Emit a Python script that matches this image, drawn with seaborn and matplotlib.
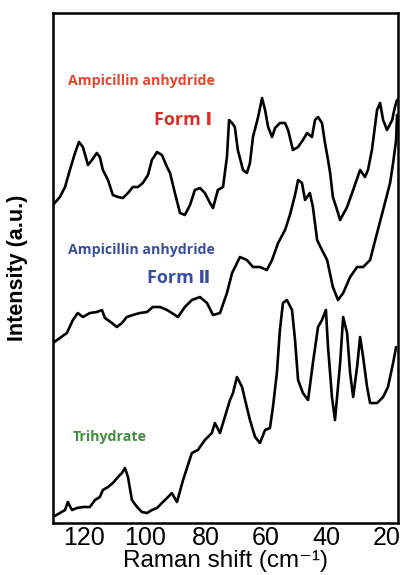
import numpy as np
import pandas as pd
import matplotlib
matplotlib.use("Agg")
import matplotlib.pyplot as plt
import seaborn as sns

# ---------------- DADOS ----------------
form1_shift = [130.4, 128.1, 126.4, 124.8, 123.1, 121.8, 120.5, 118.8, 117.5, 115.9,
               114.9, 113.9, 112.2, 110.6, 108.9, 107.3, 105.6, 104.0, 102.3, 100.7,
               99.0, 97.7, 96.0, 94.4, 92.7, 91.7, 90.1, 88.4, 86.8, 85.1,
               83.5, 81.8, 80.2, 78.5, 77.5, 75.9, 74.2, 72.9, 72.2, 71.2,
               70.3, 69.3, 67.6, 66.3, 65.3, 64.3, 62.6, 61.3, 60.3, 59.3,
               58.0, 57.0, 55.4, 53.7, 52.7, 51.1, 49.4, 47.8, 46.4, 44.8,
               43.8, 42.8, 41.5, 40.5, 39.5, 38.8, 37.9, 36.5, 35.5, 33.2,
               31.2, 28.9, 27.3, 26.3, 25.0, 23.3, 22.3, 21.3, 20.0, 18.3,
               17.4, 16.7]
form1_int = [318, 326, 336, 353, 370, 381, 376, 358, 363, 370,
             366, 353, 343, 328, 326, 325, 330, 336, 336, 340,
             348, 363, 371, 368, 356, 350, 330, 310, 308, 318,
             333, 335, 330, 320, 315, 333, 336, 366, 403, 400,
             396, 373, 353, 350, 360, 386, 406, 425, 413, 396,
             386, 395, 400, 400, 393, 373, 376, 383, 390, 386,
             403, 406, 400, 380, 363, 350, 326, 313, 303, 316,
             333, 353, 346, 353, 373, 413, 420, 403, 393, 403,
             416, 423]

form2_shift = [130.4, 128.1, 125.8, 123.8, 122.2, 120.5, 118.2, 115.9, 114.2, 113.2,
               110.9, 109.3, 107.6, 106.0, 104.0, 101.7, 99.3, 97.4, 95.0, 92.7,
               91.1, 89.1, 86.8, 84.5, 81.8, 79.5, 77.5, 75.2, 72.9, 71.2,
               68.6, 66.3, 64.3, 62.0, 59.7, 58.0, 56.0, 53.7, 52.1, 50.4,
               49.4, 48.1, 47.1, 45.5, 44.5, 43.1, 41.5, 39.8, 37.9, 36.2,
               34.5, 32.2, 29.9, 27.9, 25.6, 23.3, 21.3, 19.0, 18.0, 17.0,
               16.7]
form2_int = [180, 185, 190, 203, 210, 206, 210, 211, 213, 205,
             200, 196, 200, 206, 208, 210, 211, 216, 216, 213,
             210, 206, 216, 223, 226, 220, 208, 210, 230, 250,
             266, 263, 256, 256, 253, 263, 280, 293, 308, 328,
             343, 340, 323, 330, 316, 283, 273, 263, 236, 223,
             230, 246, 256, 256, 263, 290, 313, 340, 360, 383,
             408]

tri_shift = [130.4, 128.1, 126.4, 125.5, 124.1, 122.5, 120.5, 118.2, 116.5, 114.9,
             113.9, 112.2, 110.6, 108.9, 107.6, 106.6, 105.6, 104.3, 102.6, 101.0,
             99.3, 97.7, 96.0, 94.4, 92.7, 91.1, 89.4, 87.4, 84.5, 82.5,
             80.2, 77.9, 76.9, 75.2, 73.6, 71.9, 70.9, 69.6, 67.9, 66.9,
             65.3, 63.6, 62.0, 60.3, 58.7, 57.7, 56.4, 55.4, 54.4, 53.1,
             51.4, 50.4, 49.4, 47.8, 46.1, 44.5, 42.8, 41.5, 40.2, 39.5,
             38.2, 37.2, 35.5, 34.5, 33.2, 32.2, 31.2, 29.9, 28.9, 27.9,
             26.6, 25.6, 23.3, 21.3, 19.7, 18.0, 17.0]
tri_int = [6, 10, 13, 21, 13, 15, 16, 16, 23, 26,
           33, 36, 40, 46, 50, 55, 46, 23, 16, 11,
           10, 13, 15, 20, 25, 30, 21, 43, 70, 73,
           83, 90, 100, 90, 106, 123, 130, 146, 136, 123,
           103, 86, 80, 93, 95, 116, 150, 193, 220, 223,
           213, 183, 143, 130, 123, 160, 196, 203, 213, 176,
           126, 103, 160, 206, 190, 150, 126, 156, 186, 166,
           136, 120, 120, 126, 136, 160, 176]

x_ticks = [120, 100, 80, 60, 40, 20]

# ---------------- FIGURA ----------------
sns.set_style("white")
plt.rcParams['font.family'] = ['Liberation Sans', 'DejaVu Sans']
plt.rcParams['text.color'] = 'black'
plt.rcParams['axes.labelcolor'] = 'black'
plt.rcParams['xtick.color'] = 'black'

fig = plt.figure(figsize=(4.04, 5.75), dpi=100)
ax = fig.add_axes([0.131, 0.0904, 0.854, 0.887])

for sx, sy in [(form1_shift, form1_int), (form2_shift, form2_int), (tri_shift, tri_int)]:
    df = pd.DataFrame({'shift': sx, 'int': sy})
    sns.lineplot(data=df, x='shift', y='int', sort=False, estimator=None,
                 color='black', lw=1.9, ax=ax)

ax.set_xlim(130.4, 16.4)
ax.set_ylim(0, 510)
ax.set_xticks(x_ticks)
ax.set_yticks([])
ax.tick_params(axis='x', direction='in', length=5, width=1.2, labelsize=18, pad=2)
for s in ax.spines.values():
    s.set_linewidth(1.8)
    s.set_color('black')

ax.set_xlabel('Raman shift (cm⁻¹)', fontsize=17.5)
ax.xaxis.set_label_coords(0.5, -0.097)
ax.xaxis.label.set_va('bottom')
ax.set_ylabel('Intensity (a.u.)', fontsize=15.5, fontweight='bold')
ax.yaxis.set_label_coords(-0.072, 0.5)

# rótulos coloridos
lab = ['Open Sans', 'DejaVu Sans', 'Noto Sans CJK JP']
red, blue, green = '#e5452b', '#3a4ea0', '#3e8e3c'
ax.text(101.3, 442, 'Ampicillin anhydride', color=red, fontsize=10.2, fontweight='bold',
        ha='center', va='center', family=lab)
ax.text(87.4, 403, 'Form Ⅰ', color='#d6302a', fontsize=13, fontweight='bold',
        ha='center', va='center', family=lab)
ax.text(101.3, 273, 'Ampicillin anhydride', color=blue, fontsize=10.2, fontweight='bold',
        ha='center', va='center', family=lab)
ax.text(88.8, 245, 'Form Ⅱ', color=blue, fontsize=13, fontweight='bold',
        ha='center', va='center', family=lab)
ax.text(111.6, 86, 'Trihydrate', color=green, fontsize=10.2, fontweight='bold',
        ha='center', va='center', family=lab)

fig.savefig('out.png', dpi=100)
